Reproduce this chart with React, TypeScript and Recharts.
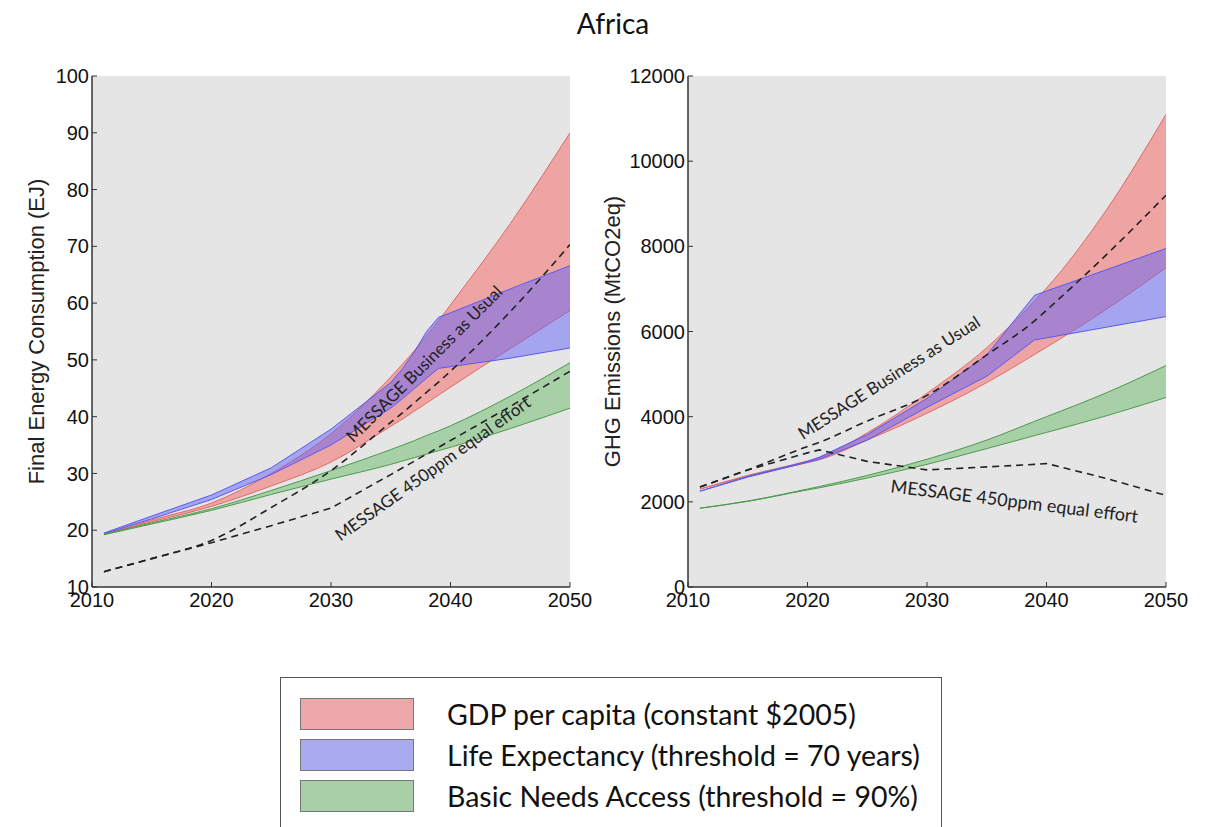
import { ComposedChart, Area, Line, XAxis, YAxis, CartesianGrid, ReferenceDot } from 'recharts'

// ---- left panel: final energy consumption (EJ)
const energyYears = [2011, 2015, 2020, 2025, 2030, 2035, 2036, 2037, 2038, 2039, 2040, 2045, 2050]
const energyGdpLow = [19.3, 21.5, 24.2, 27.8, 32.0, 38.3, 39.6, 41.0, 42.4, 43.8, 45.2, 52.0, 58.7]
const energyGdpHigh = [19.3, 21.8, 24.8, 30.0, 37.0, 47.0, 49.3, 51.7, 54.3, 56.9, 59.7, 74.0, 90.0]
const energyLifeLow = [19.4, 22.0, 25.4, 29.8, 35.0, 41.5, 43.2, 45.0, 46.8, 48.5, 48.8, 50.3, 52.1]
const energyLifeHigh = [19.5, 22.5, 26.2, 31.0, 37.8, 46.0, 48.5, 51.5, 55.0, 57.5, 58.3, 62.5, 66.6]
const energyBasicLow = [19.2, 21.1, 23.5, 26.3, 29.0, 31.6, 32.2, 32.8, 33.4, 34.0, 34.6, 37.9, 41.5]
const energyBasicHigh = [19.3, 21.3, 23.8, 27.0, 30.5, 34.2, 35.0, 35.8, 36.7, 37.5, 38.4, 43.6, 49.5]
const energyBau = [12.7, 15.0, 18.2, 24.0, 30.5, 39.0, 40.7, 42.5, 44.3, 46.1, 48.0, 58.5, 70.3]
const energy450 = [12.7, 15.0, 17.8, 20.8, 23.9, 29.8, 31.0, 32.2, 33.4, 34.6, 35.8, 41.8, 48.0]

// ---- right panel: GHG emissions (MtCO2eq)
const ghgYears = [2011, 2015, 2020, 2021, 2025, 2030, 2035, 2039, 2040, 2045, 2050]
const ghgGdpLow = [2300, 2600, 2920, 2990, 3450, 4080, 4800, 5460, 5630, 6520, 7500]
const ghgGdpHigh = [2300, 2620, 2960, 3040, 3620, 4550, 5620, 6720, 7020, 8850, 11100]
const ghgLifeLow = [2250, 2580, 2930, 3000, 3450, 4220, 4950, 5800, 5850, 6100, 6350]
const ghgLifeHigh = [2250, 2600, 2950, 3050, 3580, 4430, 5450, 6850, 6950, 7450, 7950]
const ghgBasicLow = [1850, 2010, 2280, 2330, 2560, 2880, 3250, 3555, 3630, 4020, 4450]
const ghgBasicHigh = [1850, 2020, 2300, 2360, 2620, 3000, 3450, 3890, 4000, 4560, 5200]
const ghgBau = [2350, 2750, 3300, 3400, 3900, 4500, 5450, 6250, 6500, 7800, 9200]
const ghg450 = [2350, 2750, 3150, 3220, 2950, 2750, 2820, 2880, 2900, 2550, 2150]

const xTicks = [2010, 2020, 2030, 2040, 2050]
const energyTicks = [10, 20, 30, 40, 50, 60, 70, 80, 90, 100]
const ghgTicks = [0, 2000, 4000, 6000, 8000, 10000, 12000]

const legendItems = [
  { name: 'GDP per capita (constant $2005)', color: '#eca8a8' },
  { name: 'Life Expectancy (threshold = 70 years)', color: '#aaaaee' },
  { name: 'Basic Needs Access (threshold = 90%)', color: '#a8cfa8' },
]

const build = (years: number[], s: number[][]) =>
  years.map((year, i) => ({
    year,
    gdp: [s[0][i], s[1][i]],
    life: [s[2][i], s[3][i]],
    basic: [s[4][i], s[5][i]],
    bau: s[6][i],
    p450: s[7][i],
  }))

const energyData = build(energyYears, [
  energyGdpLow, energyGdpHigh, energyLifeLow, energyLifeHigh,
  energyBasicLow, energyBasicHigh, energyBau, energy450,
])
const ghgData = build(ghgYears, [
  ghgGdpLow, ghgGdpHigh, ghgLifeLow, ghgLifeHigh,
  ghgBasicLow, ghgBasicHigh, ghgBau, ghg450,
])

type Note = { text: string; x: number; y: number; angle: number; size: number }

const energyNotes: Note[] = [
  { text: 'MESSAGE Business as Usual', x: 2037.9, y: 49.1, angle: -45, size: 17 },
  { text: 'MESSAGE 450ppm equal effort', x: 2038.6, y: 30.6, angle: -35.5, size: 17 },
]
const ghgNotes: Note[] = [
  { text: 'MESSAGE Business as Usual', x: 2026.9, y: 4885, angle: -32.7, size: 17 },
  { text: 'MESSAGE 450ppm equal effort', x: 2037.3, y: 1973, angle: 7, size: 18 },
]

const AXIS = '#333'
const SANS = '"Liberation Sans", Arial, sans-serif'
const tickFont = { fontSize: 20, fill: '#111', fontFamily: SANS }

function Panel({ data, ticks, domain, label, labelOffset, notes, left }: {
  data: ReturnType<typeof build>
  ticks: number[]
  domain: [number, number]
  label: string
  labelOffset: number
  notes: Note[]
  left: number
}) {
  return (
    <div style={{ position: 'absolute', left, top: 50 }}>
      <ComposedChart width={600} height={580} data={data} margin={{ top: 26, right: 30, bottom: 13, left: 0 }}>
        <CartesianGrid fill="#e5e5e5" stroke="none" />
        <XAxis
          dataKey="year" type="number" domain={[2010, 2050]} ticks={xTicks} interval={0}
          height={30} tickSize={-5} tickMargin={11} allowDataOverflow
          axisLine={{ stroke: AXIS, strokeWidth: 1.5 }} tickLine={{ stroke: AXIS }} tick={tickFont}
        />
        <XAxis
          xAxisId="top" orientation="top" type="number" domain={[2010, 2050]} ticks={xTicks}
          height={0} tickSize={-5} tickFormatter={() => ''}
          axisLine={{ stroke: AXIS, strokeWidth: 1.5 }} tickLine={{ stroke: AXIS }}
        />
        <YAxis
          type="number" domain={domain} ticks={ticks} interval={0} width={92}
          tickSize={-5} tickMargin={8} allowDataOverflow
          axisLine={{ stroke: AXIS, strokeWidth: 1.5 }} tickLine={{ stroke: AXIS }} tick={tickFont}
          label={{
            value: label, angle: -90, position: 'insideLeft', offset: labelOffset,
            style: { textAnchor: 'middle', fontSize: 22, fill: '#222', fontFamily: SANS },
          }}
        />
        <YAxis
          yAxisId="right" orientation="right" type="number" domain={domain} ticks={ticks}
          width={0} tickSize={-5} tickFormatter={() => ''}
          axisLine={{ stroke: AXIS, strokeWidth: 1.5 }} tickLine={{ stroke: AXIS }}
        />
        <Area dataKey="gdp" type="monotone" fill="rgb(247,100,98)" fillOpacity={0.5} stroke="#e06a6a" strokeWidth={1} isAnimationActive={false} />
        <Area dataKey="life" type="linear" fill="rgb(100,100,250)" fillOpacity={0.5} stroke="#5a5af0" strokeWidth={1} isAnimationActive={false} />
        <Area dataKey="basic" type="monotone" fill="rgb(105,187,105)" fillOpacity={0.5} stroke="#4d9a4d" strokeWidth={1} isAnimationActive={false} />
        <Line dataKey="bau" type="monotone" stroke="#222" strokeWidth={1.6} strokeDasharray="7 5" dot={false} isAnimationActive={false} />
        <Line dataKey="p450" type="linear" stroke="#222" strokeWidth={1.6} strokeDasharray="7 5" dot={false} isAnimationActive={false} />
        {notes.map((n) => (
          <ReferenceDot
            key={n.text}
            x={n.x}
            y={n.y}
            r={0}
            ifOverflow="visible"
            shape={(p: any) => (
              <text
                x={p.cx}
                y={p.cy}
                transform={`rotate(${n.angle}, ${p.cx}, ${p.cy})`}
                textAnchor="middle"
                dominantBaseline="middle"
                fontSize={n.size}
                fill="#222"
                fontFamily="Lato, 'Open Sans', sans-serif"
              >
                {n.text}
              </text>
            )}
          />
        ))}
      </ComposedChart>
    </div>
  )
}

export default function App() {
  return (
    <div style={{ position: 'absolute', left: 0, top: 0, width: 1226, height: 827, background: '#fff', overflow: 'hidden' }}>
      <div style={{ position: 'absolute', left: 0, width: 1226, top: 6, textAlign: 'center', fontFamily: 'Lato, sans-serif', fontSize: 28, color: '#111' }}>
        Africa
      </div>
      <Panel data={energyData} ticks={energyTicks} domain={[10, 100]} label="Final Energy Consumption (EJ)" labelOffset={36} notes={energyNotes} left={0} />
      <Panel data={ghgData} ticks={ghgTicks} domain={[0, 12000]} label="GHG Emissions (MtCO2eq)" labelOffset={16} notes={ghgNotes} left={596} />
      <div style={{ position: 'absolute', left: 280, top: 677, width: 660, height: 160, border: '1px solid #555', background: '#fff' }}>
        {legendItems.map((item, i) => (
          <div key={item.name} style={{ position: 'absolute', left: 19, top: 19 + i * 41, display: 'flex', alignItems: 'center' }}>
            <div style={{ width: 114, height: 32, background: item.color, border: '1.5px solid #777', boxSizing: 'border-box' }} />
            <span style={{ marginLeft: 33, fontFamily: 'Lato, sans-serif', fontSize: 28.5, color: '#111', whiteSpace: 'nowrap' }}>{item.name}</span>
          </div>
        ))}
      </div>
    </div>
  )
}
